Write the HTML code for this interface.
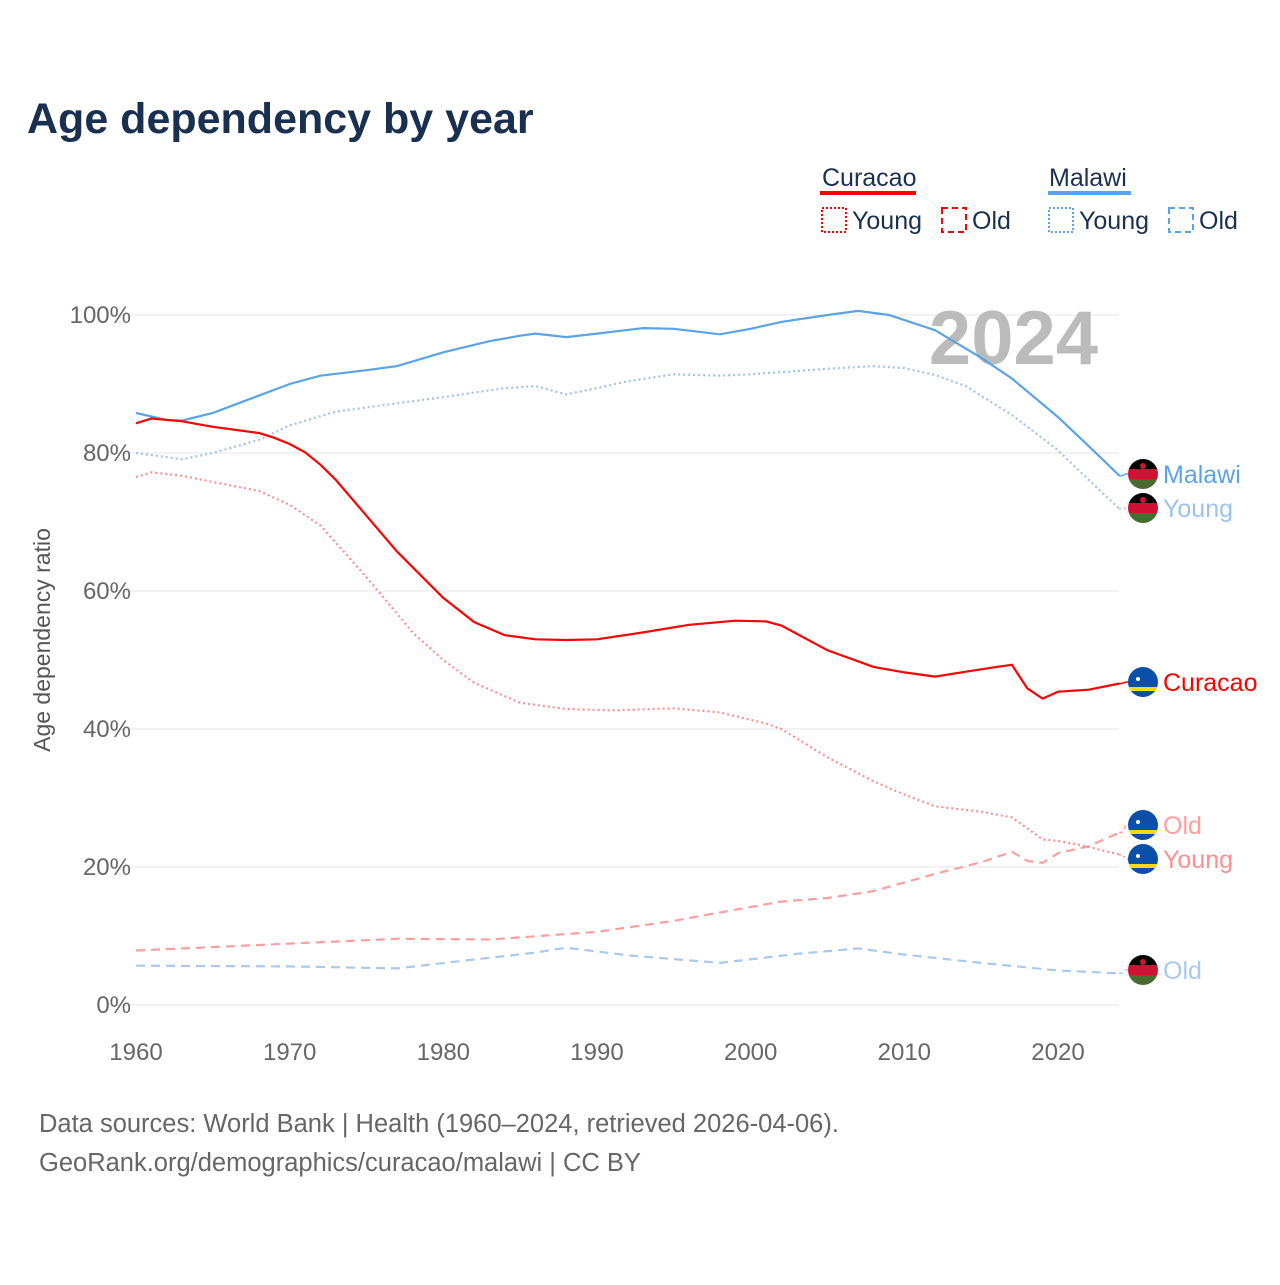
<!DOCTYPE html>
<html><head><meta charset="utf-8"><style>
body{margin:0;background:#fff;font-family:"Liberation Sans",sans-serif}
svg text{font-family:"Liberation Sans",sans-serif}
</style></head><body>
<svg width="1280" height="1280" viewBox="0 0 1280 1280">
<text x="27" y="133" font-size="43" font-weight="bold" fill="#1a3050">Age dependency by year</text>
<g>
<text x="822" y="186" font-size="25" fill="#1a3050">Curacao</text>
<rect x="820" y="191" width="96" height="4" fill="#f00"/>
<rect x="822" y="208" width="24" height="24" fill="none" stroke="#f00" stroke-width="2" stroke-dasharray="2,2"/>
<text x="852" y="229" font-size="25" fill="#1a3050">Young</text>
<rect x="942" y="208" width="24" height="24" fill="none" stroke="#f00" stroke-width="2" stroke-dasharray="6,4"/>
<text x="972" y="229" font-size="25" fill="#1a3050">Old</text>
<text x="1049" y="186" font-size="25" fill="#1a3050">Malawi</text>
<rect x="1048" y="191" width="83" height="4" fill="#5aa3e8"/>
<rect x="1049" y="208" width="24" height="24" fill="none" stroke="#5aa3e8" stroke-width="2" stroke-dasharray="2,2"/>
<text x="1079" y="229" font-size="25" fill="#1a3050">Young</text>
<rect x="1169" y="208" width="24" height="24" fill="none" stroke="#5aa3e8" stroke-width="2" stroke-dasharray="6,4"/>
<text x="1199" y="229" font-size="25" fill="#1a3050">Old</text>
</g>
<g id="grid"></g>
<text x="1098" y="364" font-size="76" font-weight="bold" fill="#bbb" text-anchor="end">2024</text>
<text transform="translate(50,640) rotate(-90)" font-size="23" fill="#555" text-anchor="middle">Age dependency ratio</text>
<g id="series"></g>
<g id="labels"></g>
<text x="39" y="1132" font-size="25.5" fill="#666">Data sources: World Bank | Health (1960–2024, retrieved 2026-04-06).</text>
<text x="39" y="1171" font-size="25.5" fill="#666">GeoRank.org/demographics/curacao/malawi | CC BY</text>
</svg>
<script>
const xTicks=[1960,1970,1980,1990,2000,2010,2020];
const yTicks=[0,20,40,60,80,100];
const mwTotYears=[1960,1962,1963,1965,1967,1970,1972,1975,1977,1980,1983,1985,1986,1988,1990,1993,1995,1998,2000,2002,2005,2007,2009,2012,2015,2017,2020,2022,2024];
const mwTotVals=[85.8,84.8,84.7,85.8,87.5,90.0,91.2,92.0,92.6,94.6,96.2,97.0,97.3,96.8,97.3,98.1,98.0,97.2,98.0,99.0,100.0,100.6,100.0,97.8,93.8,90.8,85.2,81.0,76.7];
const mwYngYears=[1960,1963,1965,1968,1970,1973,1977,1980,1984,1986,1988,1990,1992,1995,1998,2000,2005,2008,2010,2012,2014,2017,2020,2022,2024];
const mwYngVals=[80.0,79.1,80.0,81.9,84.0,86.0,87.2,88.1,89.4,89.7,88.5,89.4,90.4,91.4,91.2,91.4,92.2,92.6,92.3,91.3,89.7,85.5,80.4,76.1,71.9];
const mwOldYears=[1960,1970,1977,1982,1986,1988,1992,1998,2003,2007,2010,2015,2020,2024];
const mwOldVals=[5.7,5.6,5.3,6.6,7.6,8.3,7.2,6.1,7.4,8.2,7.3,6.1,5.0,4.6];
const cuTotYears=[1960,1961,1963,1965,1968,1969,1970,1971,1972,1973,1975,1977,1980,1982,1984,1986,1988,1990,1993,1996,1999,2001,2002,2005,2008,2010,2012,2014,2016,2017,2018,2019,2020,2022,2024];
const cuTotVals=[84.3,85.0,84.6,83.8,82.9,82.2,81.3,80.1,78.3,76.1,70.9,65.7,59.0,55.5,53.6,53.0,52.9,53.0,54.0,55.1,55.7,55.6,55.0,51.4,49.0,48.2,47.6,48.3,49.0,49.3,45.9,44.4,45.4,45.7,46.6];
const cuYngYears=[1960,1961,1963,1965,1968,1970,1972,1975,1978,1980,1982,1985,1988,1991,1995,1998,2001,2002,2005,2008,2010,2012,2015,2017,2019,2020,2022,2024];
const cuYngVals=[76.5,77.2,76.7,75.8,74.5,72.5,69.5,62.0,54.0,50.0,46.7,43.8,42.9,42.7,43.0,42.4,40.8,40.0,35.9,32.4,30.5,28.8,28.0,27.2,24.0,23.8,22.9,21.8];
const cuOldYears=[1960,1970,1977,1983,1990,1995,2000,2002,2005,2008,2012,2015,2017,2018,2019,2020,2022,2024];
const cuOldVals=[7.9,8.9,9.6,9.5,10.6,12.2,14.2,15.0,15.5,16.5,19.0,20.7,22.2,20.9,20.6,22.0,23.0,25.0];

const NS="http://www.w3.org/2000/svg";
const X=y=>136+(y-1960)*(922/60);
const Y=v=>1005-v*6.9;
function mk(t,a,p){const e=document.createElementNS(NS,t);for(const k in a)e.setAttribute(k,a[k]);p.appendChild(e);return e;}
const grid=document.getElementById('grid');
yTicks.forEach(v=>{
 const l=mk('line',{x1:110,x2:1119,y1:Y(v),y2:Y(v),stroke:'#e4e4e4','stroke-width':1},grid);
 
 
 const t=mk('text',{x:131,y:Y(v)+8,'font-size':24,fill:'#666','text-anchor':'end'},grid);
 t.textContent=v+'%';
 
 
});
xTicks.forEach(y=>{
 const t=mk('text',{x:X(y),y:1060,'font-size':24,fill:'#666','text-anchor':'middle'},grid);
 t.textContent=y;
 
 
});
const S=document.getElementById('series');
function line(ys,vs,color,dash,name){
 const d=ys.map((y,i)=>(i?'L':'M')+X(y).toFixed(1)+','+Y(vs[i]).toFixed(1)).join('');
 const p=mk('path',{d:d,fill:'none',stroke:color,'stroke-width':2.2,'stroke-dasharray':dash},S);
 
 
}
line(mwOldYears,mwOldVals,'#a8c9ef','9,6','malawi-old-line');
line(cuOldYears,cuOldVals,'#ff9e9e','9,6','curacao-old-line');
line(mwYngYears,mwYngVals,'#9cc3ef','2,3','malawi-young-line');
line(cuYngYears,cuYngVals,'#ff8f8f','2,3','curacao-young-line');
line(mwTotYears,mwTotVals,'#5aa3e8','','malawi-total-line');
line(cuTotYears,cuTotVals,'#f00','','curacao-total-line');
const L=document.getElementById('labels');
function flag(cy,kind,p){
 const g=mk('g',{},p);
 const id='c'+Math.round(cy);
 const cp=mk('clipPath',{id:id},g);mk('circle',{cx:1143,cy:cy,r:15},cp);
 const f=mk('g',{'clip-path':'url(#'+id+')'},g);
 if(kind==='mw'){
  mk('rect',{x:1128,y:cy-15,width:30,height:10,fill:'#000'},f);
  mk('rect',{x:1128,y:cy-5,width:30,height:10,fill:'#d21034'},f);
  mk('rect',{x:1128,y:cy+5,width:30,height:10,fill:'#486b2f'},f);
  mk('circle',{cx:1143,cy:cy-8,r:3,fill:'#d21034'},f);
 } else {
  mk('rect',{x:1128,y:cy-15,width:30,height:30,fill:'#0a4fa8'},f);
  mk('rect',{x:1128,y:cy+5,width:30,height:4,fill:'#f9d90f'},f);
  mk('circle',{cx:1138,cy:cy-3,r:2,fill:'#fff'},f);
 }
 return g;
}
const labels=[
 {t:'Malawi',y:474,v:76.7,c:'#5aa3e8',k:'mw',d:''},
 {t:'Young',y:508,v:71.9,c:'#9cc3ef',k:'mw',d:'2,3'},
 {t:'Curacao',y:682,v:46.6,c:'#f00',k:'cu',d:''},
 {t:'Old',y:825,v:25.0,c:'#ff9e9e',k:'cu',d:'4,3'},
 {t:'Young',y:859,v:21.8,c:'#ff8f8f',k:'cu',d:'2,3'},
 {t:'Old',y:970,v:4.6,c:'#a8c9ef',k:'mw',d:'4,3'}];
labels.forEach(o=>{
 mk('path',{d:'M1119,'+Y(o.v)+'L1122,'+Y(o.v)+'L1126,'+o.y+'L1130,'+o.y,fill:'none',stroke:o.c,'stroke-width':1.5,'stroke-dasharray':o.d},L);
 const g=flag(o.y,o.k,L);
 
 
 const t=mk('text',{x:1163,y:o.y+9,'font-size':25,fill:o.c},L);
 t.textContent=o.t;
 
 
});
</script>
</body></html>
